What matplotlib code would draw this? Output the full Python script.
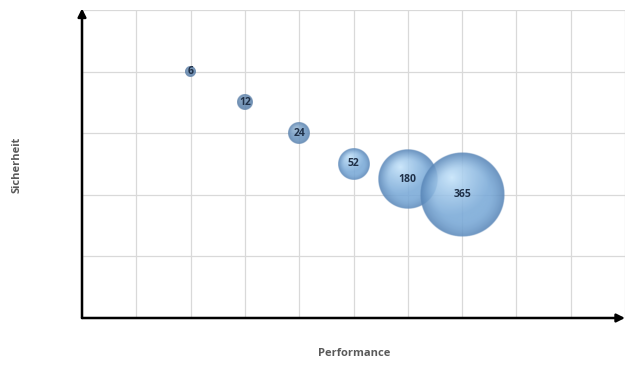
import numpy as np
import matplotlib as mpl
import matplotlib.pyplot as plt

# bubble data
perf = [2, 3, 4, 5, 6, 7]
safety = [4, 3.5, 3, 2.5, 2.25, 2]
sizes = [6, 12, 24, 52, 180, 365]
labels = ['6', '12', '24', '52', '180', '365']

px_per_sqrt = 2.2  # bubble radius in pixels per sqrt(size)

fig = plt.figure(figsize=(6.39, 3.66), dpi=100)
ax = fig.add_axes([82/639, 48/366, 543/639, 308/366])
ax.set_xlim(0, 10)
ax.set_ylim(0, 5)
ax.set_xticks(range(0, 11))
ax.set_yticks(range(0, 6))
ax.grid(True, color='#d9d9d9', lw=0.9)
ax.tick_params(length=0, labelbottom=False, labelleft=False)
for s in ax.spines.values():
    s.set_visible(False)
ax.set_axisbelow(True)

# axis arrows
ax.annotate('', xy=(1.0, 0), xytext=(0, 0), xycoords='axes fraction',
            arrowprops=dict(arrowstyle='-|>', lw=1.8, color='black', mutation_scale=12,
                            shrinkA=0, shrinkB=0))
ax.annotate('', xy=(0, 1.005), xytext=(0, 0), xycoords='axes fraction',
            arrowprops=dict(arrowstyle='-|>', lw=1.8, color='black', mutation_scale=12,
                            shrinkA=0, shrinkB=0))

# sphere-like gradient bubble as an RGBA image
edge = np.array(mpl.colors.to_rgb('#5683b5'))
mid = np.array(mpl.colors.to_rgb('#7aaad8'))
hi = np.array(mpl.colors.to_rgb('#c8e6fc'))
dark = np.array(mpl.colors.to_rgb('#56759a'))

def bubble_img(shade, n=200):
    yy, xx = np.mgrid[-1:1:n*1j, -1:1:n*1j]
    rr = np.sqrt(xx**2 + yy**2)
    # highlight up-left (image row 0 is top with origin='upper')
    hd = np.sqrt((xx + 0.25)**2 + (yy + 0.4)**2)
    t = np.clip(hd / 0.9, 0, 1)**0.8
    col = hi[None, None, :] * (1 - t[..., None]) + mid[None, None, :] * t[..., None]
    e = np.clip((rr - 0.6) / 0.4, 0, 1)**1.6
    col = col * (1 - e[..., None]) + edge[None, None, :] * e[..., None]
    # faint reflection near bottom
    refl = np.clip(1 - np.sqrt(xx**2 + (yy - 0.75)**2) / 0.5, 0, 1) * 0.3
    col = col * (1 - refl[..., None]) + mid[None, None, :] * refl[..., None]
    col = col * (1 - shade) + dark[None, None, :] * shade  # small bubbles look darker
    alpha = np.clip((1 - rr) * n / 3, 0, 1) * 0.88
    return np.dstack([col, alpha])

fig.canvas.draw()
for x, y, s, lab in zip(perf, safety, sizes, labels):
    r = px_per_sqrt * np.sqrt(s)
    shade = float(np.clip((16 - r) / 13, 0, 0.7))
    cx, cy = ax.transData.transform((x, y))
    x0, y0 = ax.transData.inverted().transform((cx - r, cy - r))
    x1, y1 = ax.transData.inverted().transform((cx + r, cy + r))
    ax.imshow(bubble_img(shade), extent=(x0, x1, y0, y1), origin='upper', aspect='auto',
              interpolation='bilinear', zorder=3)
    ax.text(x, y, lab, ha='center', va='center', fontsize=7.5, color='#1f3048',
            family='Open Sans', fontweight='bold', zorder=4)
ax.set_xlim(0, 10)
ax.set_ylim(0, 5)

fig.text(354/639, 1 - 354/366, 'Performance', ha='center', va='center',
         fontsize=8, fontweight='bold', color='#595959', family='Open Sans')
fig.text(17/639, 1 - 165/366, 'Sicherheit', ha='center', va='center', rotation=90,
         fontsize=8, fontweight='bold', color='#595959', family='Open Sans')

fig.savefig('out.png', dpi=100)
